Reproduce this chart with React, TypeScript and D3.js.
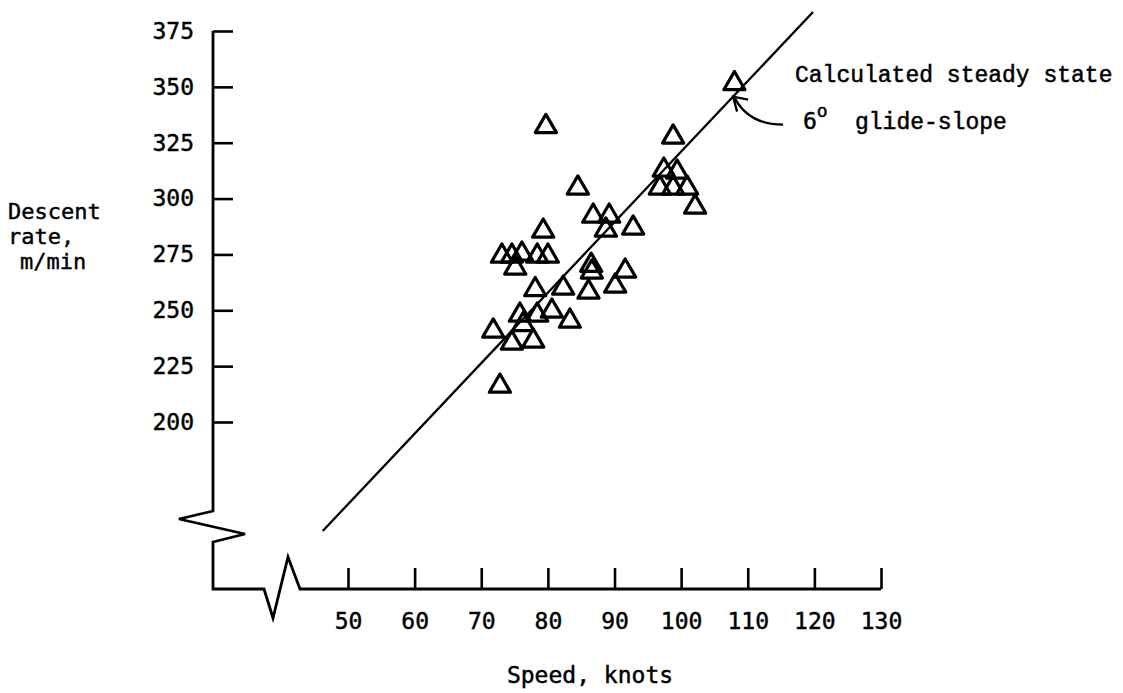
import { useEffect, useRef } from "react";
import * as d3 from "d3";

// axis ticks
const speedTicks = [50, 60, 70, 80, 90, 100, 110, 120, 130];
const rateTicks = [200, 225, 250, 275, 300, 325, 350, 375];

// measured runs: speed (knots) and descent rate (m/min)
const speed = [
  108.0, 79.7, 84.5, 86.8, 89.2, 88.7, 92.8, 79.3, 98.8, 97.4,
  99.4, 96.8, 98.8, 100.9, 102.1, 73.1, 74.6, 76.1, 78.4, 80.0,
  75.1, 78.1, 82.3, 91.6, 90.1, 86.5, 86.6, 86.1, 71.8, 74.6,
  77.8, 75.8, 76.3, 78.4, 80.6, 83.3, 72.8,
];
const descentRate = [
  352.8, 333.6, 306.1, 293.5, 293.5, 287.3, 288.2, 286.8, 328.9, 314.1,
  313.2, 306.1, 306.1, 306.1, 297.6, 275.6, 275.6, 276.5, 275.6, 275.6,
  270.3, 260.6, 261.3, 268.9, 262.2, 271.5, 268.5, 259.5, 242.1, 236.7,
  237.6, 249.2, 245.0, 249.2, 251.0, 246.5, 217.4,
];

// calculated steady state, 6 deg glide-slope
const glideSpeed = [46.2, 119.8];
const glideRate = [151.2, 383.5];
const arrowSpeed = 107.8;

const W = 1123, H = 693;
const sansMono = "'DejaVu Sans Mono', monospace";
const courier = "'Liberation Mono', 'Courier New', monospace";

// open triangle, centred on its bounding box
const triangle = {
  draw(ctx: any, size: number) {
    const w = Math.sqrt(size) * 1.1, h = w * 0.86;
    ctx.moveTo(0, -h / 2);
    ctx.lineTo(w / 2, h / 2);
    ctx.lineTo(-w / 2, h / 2);
    ctx.closePath();
  },
};

export default function App() {
  const ref = useRef<SVGSVGElement>(null);

  useEffect(() => {
    const svg = d3.select(ref.current);
    svg.selectAll("*").remove();

    const x = d3.scaleLinear().domain([50, 130]).range([348, 881]);
    const y = d3.scaleLinear().domain([200, 375]).range([422, 31]);

    const ax = 213, ay = 589;

    const styleText = (sel: any, size = 23) =>
      sel.attr("font-family", sansMono).attr("font-size", size).attr("fill", "#000")
        .attr("stroke", "#000").attr("stroke-width", 0.45);

    // y axis
    const yAxis = svg.append("g")
      .attr("transform", `translate(${ax},0)`)
      .call(d3.axisLeft(y).tickValues(rateTicks).tickSize(-20).tickPadding(19).tickFormat(d3.format("d")));
    yAxis.select(".domain").remove();
    yAxis.selectAll("line").attr("stroke", "#000").attr("stroke-width", 2.6);
    styleText(yAxis.selectAll("text"));

    // x axis
    const xAxis = svg.append("g")
      .attr("transform", `translate(0,${ay})`)
      .call(d3.axisBottom(x).tickValues(speedTicks).tickSize(-21).tickPadding(24));
    xAxis.select(".domain").remove();
    xAxis.selectAll("line").attr("stroke", "#000").attr("stroke-width", 2.6);
    styleText(xAxis.selectAll("text"));

    // axis lines with breaks
    const top = y(375);
    const frame: [number, number][] = [
      [ax, top], [ax, ay - 78], [ax - 34, ay - 70], [ax + 32, ay - 55], [ax, ay - 47],
      [ax, ay], [ax + 51, ay], [ax + 60, ay + 29], [ax + 75, ay - 32], [ax + 87, ay], [x(130), ay],
    ];
    svg.append("path")
      .attr("d", d3.line()(frame))
      .attr("fill", "none")
      .attr("stroke", "#000")
      .attr("stroke-width", 2.8)
      .attr("stroke-linejoin", "miter");

    // glide-slope line
    const glide = glideSpeed.map((s, i) => [x(s), y(glideRate[i])] as [number, number]);
    svg.append("path")
      .attr("d", d3.line()(glide))
      .attr("fill", "none")
      .attr("stroke", "#000")
      .attr("stroke-width", 2.3);

    // data points
    const sym = d3.symbol().type(triangle as any).size(370);
    svg.append("g")
      .selectAll("path")
      .data(speed.map((s, i) => [s, descentRate[i]]))
      .enter().append("path")
      .attr("d", sym)
      .attr("transform", d => `translate(${x(d[0])},${y(d[1])})`)
      .attr("fill", "none")
      .attr("stroke", "#000")
      .attr("stroke-width", 3.2)
      .attr("stroke-linejoin", "round");

    // annotation arrow
    const slope = (glideRate[1] - glideRate[0]) / (glideSpeed[1] - glideSpeed[0]);
    const tx = x(arrowSpeed), ty = y(glideRate[0] + (arrowSpeed - glideSpeed[0]) * slope);
    const p = d3.path();
    p.moveTo(tx + 50, ty + 28);
    p.quadraticCurveTo(tx + 16, ty + 28, tx + 2, ty + 2);
    p.moveTo(tx + 15, ty + 3);
    p.lineTo(tx, ty);
    p.lineTo(tx + 4, ty + 15);
    svg.append("path")
      .attr("d", p.toString())
      .attr("fill", "none")
      .attr("stroke", "#000")
      .attr("stroke-width", 2.3);

    svg.append("text")
      .attr("x", 795).attr("y", 82)
      .attr("font-family", courier).attr("font-size", 23)
      .attr("stroke", "#000").attr("stroke-width", 0.5)
      .text("Calculated steady state");
    const g6 = styleText(svg.append("text").attr("x", 803).attr("y", 129));
    g6.append("tspan").text("6");
    g6.append("tspan").attr("dy", -12).attr("font-size", 18).text("o");
    svg.append("text")
      .attr("x", 855).attr("y", 129)
      .attr("font-family", courier).attr("font-size", 23)
      .attr("stroke", "#000").attr("stroke-width", 0.5)
      .text("glide-slope");

    // axis titles
    const titleLines = [["Descent", 8, 219], ["rate,", 8, 244], ["m/min", 20, 269]] as const;
    titleLines.forEach(([t, tx0, ty0]) => {
      styleText(svg.append("text"), 22).attr("x", tx0).attr("y", ty0).text(t);
    });

    styleText(svg.append("text"))
      .attr("x", 590).attr("y", 683)
      .attr("text-anchor", "middle")
      .text("Speed, knots");
  }, []);

  return (
    <svg
      ref={ref}
      width={W}
      height={H}
      style={{ position: "absolute", left: 0, top: 0, background: "#fff" }}
    />
  );
}
